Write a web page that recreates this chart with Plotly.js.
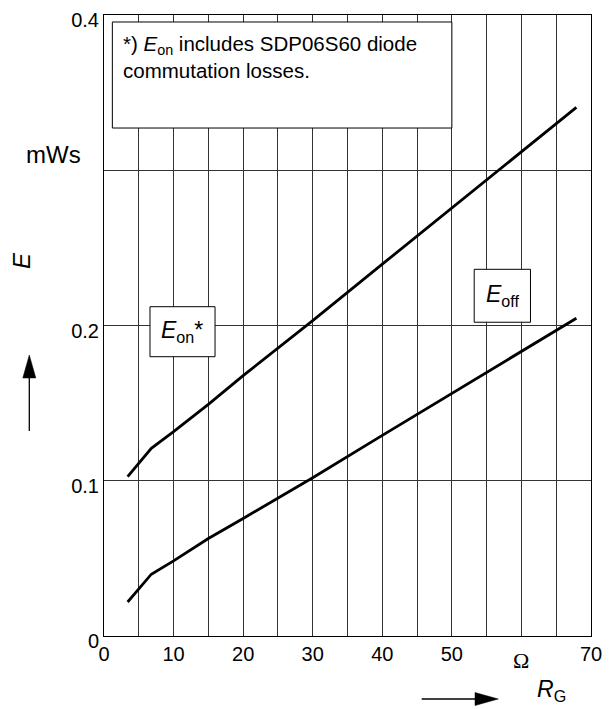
<!DOCTYPE html>
<html>
<head>
<meta charset="utf-8">
<script src="https://cdn.plot.ly/plotly-3.0.1.min.js"></script>
<style>html,body{margin:0;padding:0;background:#fff;}#chart{width:613px;height:709px;}</style>
</head>
<body>
<div id="chart"></div>
<script>
// Gate resistance R_G (Ohm) and switching energy E (mWs)
const rgOn = [3.4, 6.8, 10, 15, 20, 30, 40, 50, 60, 67.9];
const eOn  = [0.1026, 0.1209, 0.1316, 0.1492, 0.1677, 0.2032, 0.2395, 0.2757, 0.3122, 0.3405];
const rgOff = [3.4, 6.8, 10, 15, 20, 30, 40, 50, 60, 67.9];
const eOff  = [0.0219, 0.0398, 0.0484, 0.0628, 0.0757, 0.1019, 0.1292, 0.1562, 0.1834, 0.2047];
const xTickVals = [0,5,10,15,20,25,30,35,40,45,50,55,60,65,70];
const xTickText = ['0','','10','','20','','30','','40','','50','','','','70'];
const yTickVals = [0, 0.1, 0.2, 0.3, 0.4];
const yTickText = ['0','0.1','0.2','','0.4'];

const W = 613, H = 709;
const M = {l:104, r:22, t:15, b:73};
const PW = W - M.l - M.r, PH = H - M.t - M.b;
const px = v => (v - M.l) / PW;        // pixel x -> paper
const py = v => (H - M.b - v) / PH;    // pixel y -> paper
const FONT = 'Liberation Sans, Arial, Helvetica, sans-serif';

const traces = [
  {x: rgOn, y: eOn, mode:'lines', line:{color:'#000', width:2.8}, hoverinfo:'skip', showlegend:false},
  {x: rgOff, y: eOff, mode:'lines', line:{color:'#000', width:2.8}, hoverinfo:'skip', showlegend:false}
];

const tri = (pts) => 'M' + pts.map(p => px(p[0]) + ',' + py(p[1])).join(' L') + ' Z';

const shapes = [
  {type:'rect', xref:'x', yref:'y', x0:1.2, x1:50.0, y0:0.3272, y1:0.3955,
   fillcolor:'#fff', line:{color:'#000', width:1}},
  {type:'rect', xref:'x', yref:'y', x0:6.61, x1:15.96, y0:0.1799, y1:0.2121,
   fillcolor:'#fff', line:{color:'#000', width:1}},
  {type:'rect', xref:'x', yref:'y', x0:53.21, x1:61.3, y0:0.2021, y1:0.2362,
   fillcolor:'#fff', line:{color:'#000', width:1}},
  {type:'line', xref:'paper', yref:'paper', x0:px(29.3), x1:px(29.3), y0:py(431), y1:py(372),
   line:{color:'#000', width:1.3}},
  {type:'path', xref:'paper', yref:'paper', path: tri([[29.3,355],[22.8,378],[35.8,378]]),
   fillcolor:'#000', line:{color:'#000', width:0.5}},
  {type:'line', xref:'paper', yref:'paper', x0:px(421.7), x1:px(480), y0:py(699), y1:py(699),
   line:{color:'#000', width:1.3}},
  {type:'path', xref:'paper', yref:'paper', path: tri([[498.3,699],[475,692.5],[475,705.5]]),
   fillcolor:'#000', line:{color:'#000', width:0.5}}
];

const annotations = [
  {xref:'x', yref:'y', x:2.45, y:0.3905, xanchor:'left', yanchor:'top', align:'left', showarrow:false,
   text:'*) <i>E</i><sub>on</sub> includes SDP06S60 diode<br>commutation losses.',
   font:{family:FONT, size:20.5, color:'#000'}},
  {xref:'x', yref:'y', x:11.28, y:0.196, xanchor:'center', yanchor:'middle', showarrow:false,
   text:'<i>E</i><sub>on</sub>*', font:{family:FONT, size:23, color:'#000'}},
  {xref:'x', yref:'y', x:57.25, y:0.2192, xanchor:'center', yanchor:'middle', showarrow:false,
   text:'<i>E</i><sub>off</sub>', font:{family:FONT, size:23, color:'#000'}},
  {xref:'paper', yref:'paper', x:px(53.3), y:py(154), xanchor:'center', yanchor:'middle', showarrow:false,
   text:'mWs', font:{family:FONT, size:24, color:'#000'}},
  {xref:'paper', yref:'paper', x:px(21), y:py(261), xanchor:'center', yanchor:'middle', showarrow:false,
   textangle:-90, text:'<i>E</i>', font:{family:FONT, size:24, color:'#000'}},
  {xref:'x', yref:'paper', x:60, y:py(660), xanchor:'center', yanchor:'middle', showarrow:false,
   text:'Ω', font:{family:'Liberation Serif, Times New Roman, serif', size:22, color:'#000'}},
  {xref:'paper', yref:'paper', x:px(535), y:py(690), xanchor:'left', yanchor:'middle', showarrow:false,
   text:'<i>R</i><sub>G</sub>', font:{family:FONT, size:23, color:'#000'}}
];

const layout = {
  width: W, height: H,
  margin: M,
  paper_bgcolor:'#fff', plot_bgcolor:'#fff',
  font:{family:FONT, size:20, color:'#000'},
  showlegend:false,
  xaxis:{range:[0,70], tickmode:'array', tickvals:xTickVals, ticktext:xTickText,
    showgrid:true, gridcolor:'#333', gridwidth:1, zeroline:false,
    showline:true, linecolor:'#000', linewidth:1, mirror:true, ticks:'',
    tickfont:{family:FONT, size:20, color:'#000'}, fixedrange:true},
  yaxis:{range:[0,0.4], tickmode:'array', tickvals:yTickVals, ticktext:yTickText,
    showgrid:true, gridcolor:'#333', gridwidth:1, zeroline:false,
    showline:true, linecolor:'#000', linewidth:1, mirror:true, ticks:'',
    ticklabelshift:5,
    tickfont:{family:FONT, size:20, color:'#000'}, fixedrange:true},
  shapes: shapes,
  annotations: annotations
};

Plotly.newPlot('chart', traces, layout, {displayModeBar:false, staticPlot:true});
</script>
</body>
</html>
